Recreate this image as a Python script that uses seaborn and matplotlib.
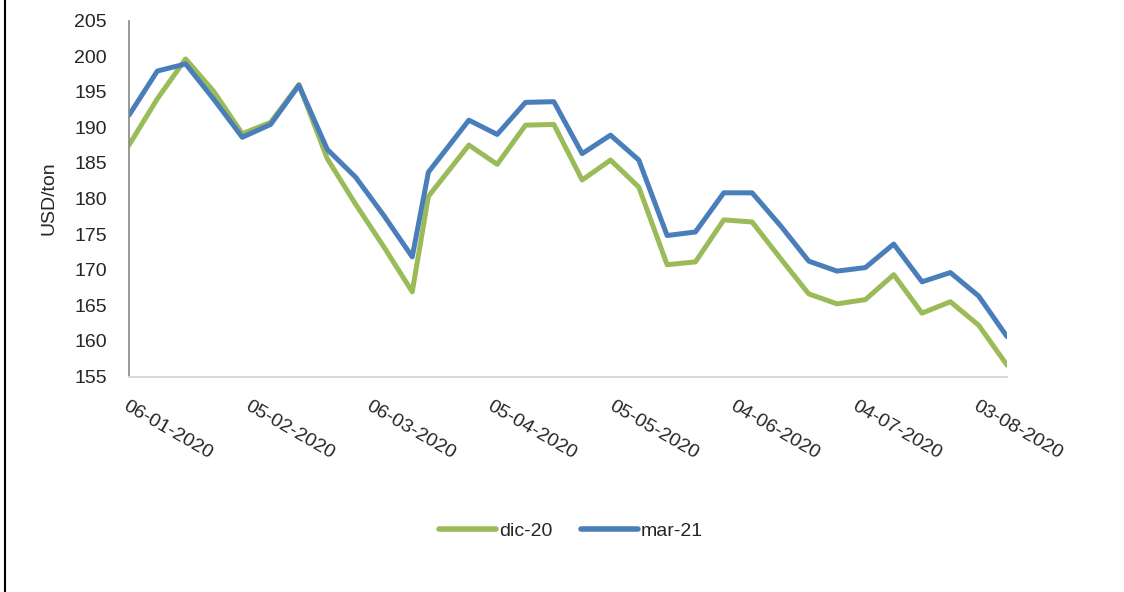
import numpy as np
import pandas as pd
import matplotlib
matplotlib.use('Agg')
import matplotlib.pyplot as plt
import matplotlib.dates as mdates
from matplotlib.lines import Line2D
import seaborn as sns

# ==========================================
# DATA (weekly prices, USD/ton)
# ==========================================
fechas = list(pd.date_range('2020-01-06', periods=32, freq='7D'))
fechas[11] = pd.Timestamp('2020-03-20')

dic_20 = [187.5, 194.0, 199.6, 195.0, 189.1, 190.7, 196.0, 185.6,
          179.2, 173.2, 166.9, 180.3, 187.5, 184.8, 190.3, 190.4,
          182.6, 185.4, 181.6, 170.7, 171.1, 177.0, 176.7, 171.6,
          166.6, 165.2, 165.8, 169.3, 163.9, 165.5, 162.2, 156.6]

mar_21 = [191.7, 197.9, 198.9, 193.9, 188.6, 190.4, 195.9, 186.9,
          183.0, 177.6, 171.8, 183.7, 191.0, 189.0, 193.5, 193.6,
          186.3, 188.9, 185.4, 174.8, 175.3, 180.8, 180.8, 176.2,
          171.2, 169.8, 170.3, 173.6, 168.3, 169.6, 166.3, 160.6]

series = ['dic-20', 'mar-21']
colores = ['#9BBB59', '#4A7EBB']

df = pd.DataFrame({
    'fecha': fechas * 2,
    'precio': dic_20 + mar_21,
    'serie': ['dic-20'] * len(dic_20) + ['mar-21'] * len(mar_21),
})

# ==========================================
# PLOT
# ==========================================
sns.set_style('white')
plt.rcParams['font.family'] = ['Liberation Sans', 'DejaVu Sans']
fs = 14

fig = plt.figure(figsize=(11.24, 5.92), dpi=100)
ax = fig.add_axes([129 / 1124, 1 - 376.5 / 592, (1007 - 129) / 1124, (376.5 - 20.5) / 592])

sns.lineplot(data=df, x='fecha', y='precio', hue='serie', hue_order=series,
             palette=colores, linewidth=3.6, ax=ax, legend=False)

ax.set_xlim(pd.Timestamp('2020-01-06'), pd.Timestamp('2020-08-10'))
ax.set_ylim(155, 205)
ax.set_yticks(np.arange(155, 206, 5))

ticks = pd.date_range('2020-01-06', periods=8, freq='30D')
ax.set_xticks(ticks)
ax.xaxis.set_major_formatter(mdates.DateFormatter('%d-%m-%Y'))
plt.setp(ax.get_xticklabels(), rotation=-30, ha='left', va='top', rotation_mode='anchor')

ax.tick_params(axis='x', length=0, pad=15, labelsize=fs)
ax.tick_params(axis='y', length=0, pad=16, labelsize=fs)
ax.set_xlabel('')
ax.set_ylabel('USD/ton', fontsize=fs)
ax.yaxis.set_label_coords(-0.081, 0.5)

for s in ['top', 'right']:
    ax.spines[s].set_visible(False)
ax.spines['left'].set_color('#868686')
ax.spines['left'].set_linewidth(1.2)
ax.spines['bottom'].set_color('#D9D9D9')
ax.spines['bottom'].set_linewidth(1.5)

handles = [Line2D([0], [0], color=c, linewidth=4) for c in colores]
fig.legend(handles, series, loc='center', bbox_to_anchor=(571 / 1124, 1 - 531 / 592),
           ncol=2, frameon=False, fontsize=fs, handlelength=2.9,
           handletextpad=0.15, columnspacing=1.5)

# chart border (left edge only visible)
fig.add_artist(Line2D([5 / 1124, 5 / 1124], [0, 1], color='black', linewidth=1.5,
                      transform=fig.transFigure))

fig.savefig('out.png', dpi=100)
